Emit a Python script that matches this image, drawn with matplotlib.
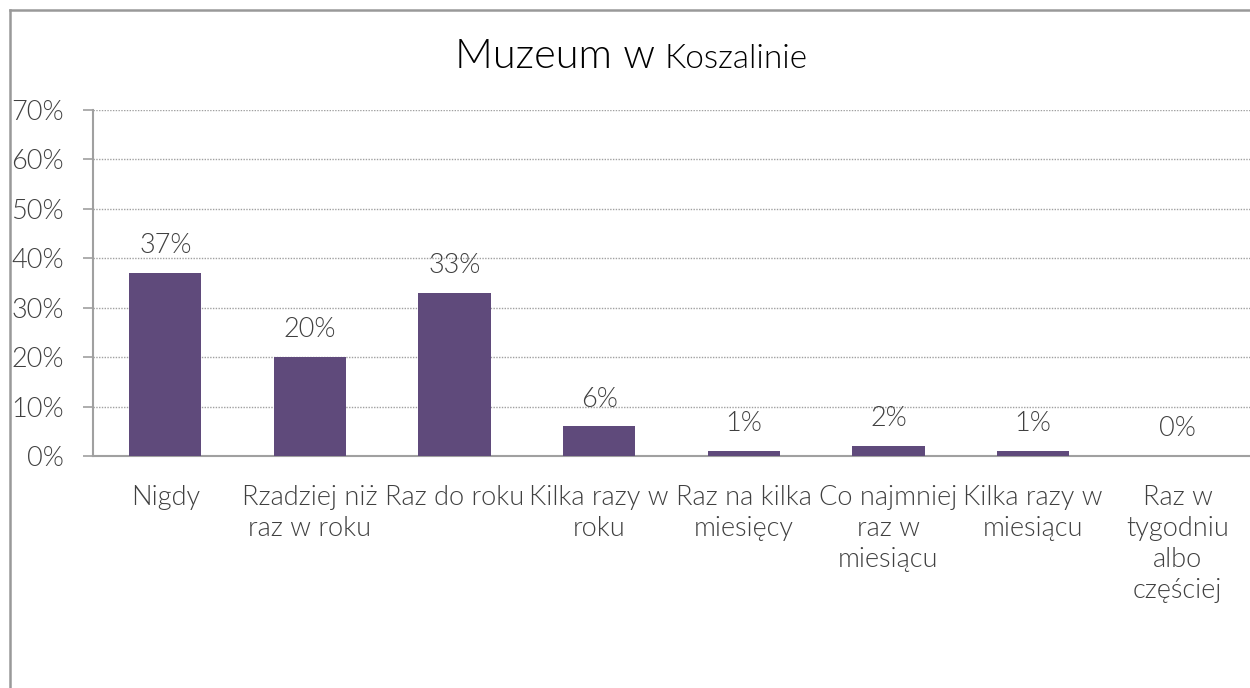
import numpy as np
import matplotlib.pyplot as plt
from matplotlib.lines import Line2D
from matplotlib.ticker import PercentFormatter

# survey answers (how often people visit the museum)
categories = ["Nigdy", "Rzadziej niż\nraz w roku", "Raz do roku", "Kilka razy w\nroku",
              "Raz na kilka\nmiesięcy", "Co najmniej\nraz w\nmiesiącu",
              "Kilka razy w\nmiesiącu", "Raz w\ntygodniu\nalbo\nczęściej"]
shares = [37, 20, 33, 6, 1, 2, 1, 0]
yticks = [0, 10, 20, 30, 40, 50, 60, 70]

plt.rcParams['font.family'] = ['Lato', 'DejaVu Sans']
txt_col = '#404040'
bar_col = '#5f4a7b'
line_col = '#a0a0a0'
fw = 300
fs = 19.5

fig = plt.figure(figsize=(12.5, 6.88), dpi=100)
W, H = 1250.0, 688.0
ax = fig.add_axes([93 / W, 1 - 456 / H, 1 - 93 / W, (456 - 110) / H])

x = np.arange(len(categories))
ax.bar(x, shares, width=0.5, color=bar_col, zorder=3)
for xi, v in zip(x, shares):
    ax.text(xi, v + 3.0, "%d%%" % v, ha='center', va='bottom', fontsize=fs,
            color=txt_col, fontweight=fw)

ax.set_xlim(-0.5, len(categories) - 0.5)
ax.set_ylim(0, 70)
ax.set_yticks(yticks)
ax.yaxis.set_major_formatter(PercentFormatter(decimals=0))
ax.set_xticks(x)
ax.set_xticklabels(categories, linespacing=1.3)
ax.yaxis.grid(True, linestyle=(0, (1, 1)), color=line_col, lw=1, zorder=0)

for s in ['top', 'right']:
    ax.spines[s].set_visible(False)
for s in ['left', 'bottom']:
    ax.spines[s].set_color(line_col)
    ax.spines[s].set_linewidth(1.5)

ax.tick_params(axis='y', length=7, width=1.2, color=line_col, pad=14,
               labelsize=fs, labelcolor=txt_col)
ax.tick_params(axis='x', length=0, pad=21, labelsize=fs, labelcolor=txt_col)
for lab in ax.get_xticklabels() + ax.get_yticklabels():
    lab.set_fontweight(fw)

# title in two sizes
fig.text(655 / W, 1 - 68 / H, "Muzeum w", ha='right', va='baseline',
         fontsize=30, color='black', fontweight=fw)
fig.text(665 / W, 1 - 68 / H, "Koszalinie", ha='left', va='baseline',
         fontsize=24, color='black', fontweight=fw)

# chart frame (left and top edges visible)
fig.add_artist(Line2D([9.5 / W, 9.5 / W], [0, 1 - 10 / H], transform=fig.transFigure,
                      color='#999999', lw=1.8))
fig.add_artist(Line2D([9.5 / W, 1], [1 - 10 / H, 1 - 10 / H], transform=fig.transFigure,
                      color='#999999', lw=1.8))

fig.savefig('out.png', dpi=100)
